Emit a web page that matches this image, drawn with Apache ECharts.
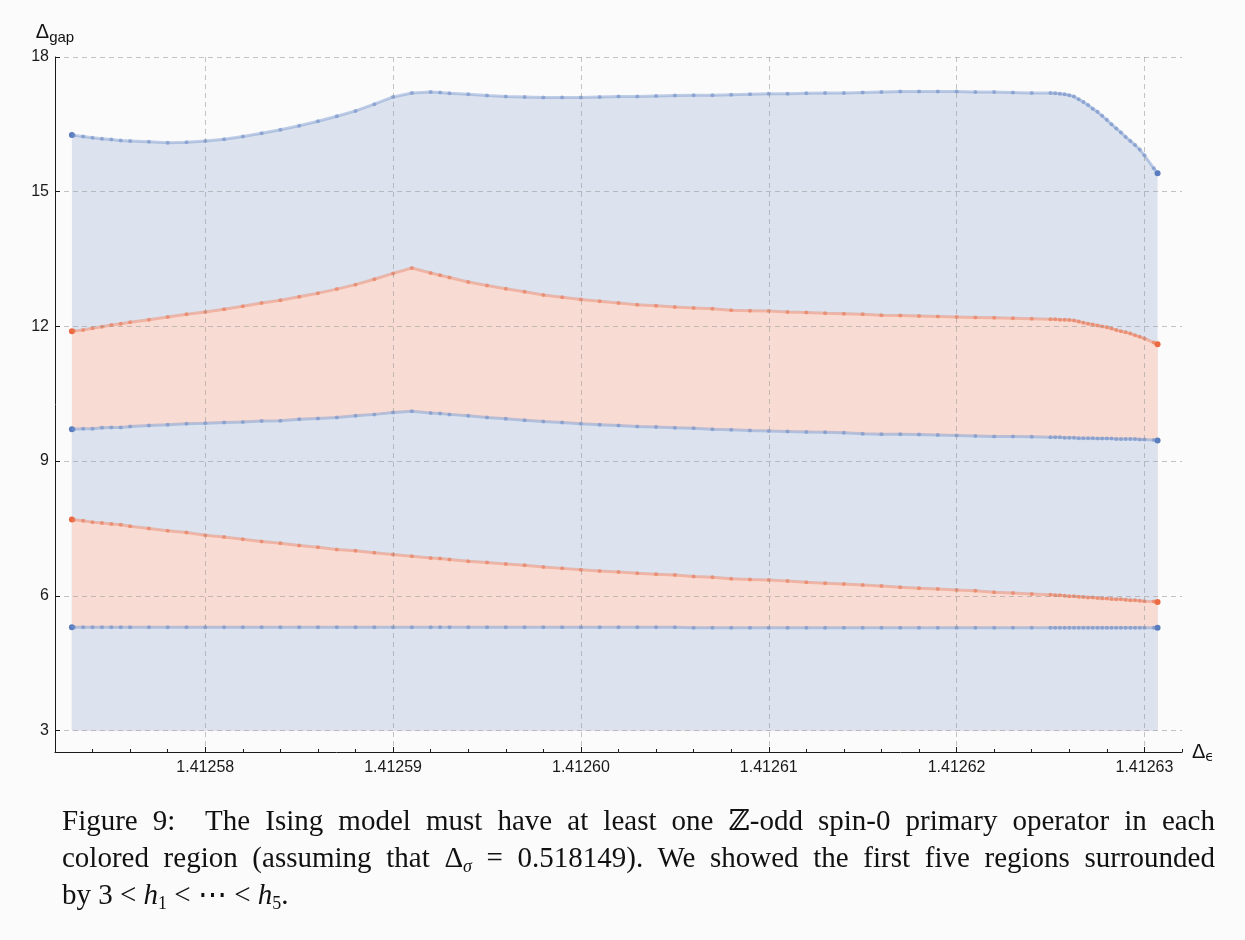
<!DOCTYPE html>
<html><head><meta charset="utf-8">
<script src="https://cdn.jsdelivr.net/npm/echarts@6/dist/echarts.min.js"></script>
<style>
html,body{margin:0;padding:0;background:#fbfbfb;width:1245px;height:940px;overflow:hidden;}
#chart{position:absolute;left:0;top:0;width:1245px;height:940px;}
.cap{position:absolute;left:62px;width:1153px;font-family:'Liberation Serif','DejaVu Serif',serif;font-size:29px;line-height:37px;color:#111;}
.j{text-align:justify;text-align-last:justify;}
sub{font-size:62%;vertical-align:-0.3em;line-height:0;}
</style></head>
<body>
<div id="chart"></div>
<div class="cap j" style="top:802px;">Figure 9:&nbsp; The Ising model must have at least one ℤ-odd spin-0 primary operator in each</div>
<div class="cap j" style="top:839px;">colored region (assuming that Δ<sub><i>σ</i></sub> = 0.518149). We showed the first five regions surrounded</div>
<div class="cap" style="top:876px;">by 3 &lt; <i>h</i><sub>1</sub> &lt; ⋯ &lt; <i>h</i><sub>5</sub>.</div>
<script>
// x samples (Δε)
const eps = [
  1.4125729, 1.412573, 1.4125735, 1.412574, 1.4125745, 1.412575, 1.4125755, 1.412576,
  1.412577, 1.412578, 1.412579, 1.41258, 1.412581, 1.412582, 1.412583, 1.412584, 1.412585,
  1.412586, 1.412587, 1.412588, 1.412589, 1.41259, 1.412591, 1.412592, 1.4125925,
  1.412593, 1.412594, 1.412595, 1.412596, 1.412597, 1.412598, 1.412599, 1.4126,
  1.412601, 1.412602, 1.412603, 1.412604, 1.412605, 1.412606, 1.412607, 1.412608, 1.412609, 1.41261,
  1.412611, 1.412612, 1.412613, 1.412614, 1.412615, 1.412616, 1.412617, 1.412618, 1.412619, 1.41262,
  1.412621, 1.412622, 1.412623, 1.412624, 1.412625,
  1.41262525, 1.4126255, 1.41262575, 1.412626, 1.41262625, 1.4126265, 1.41262675, 1.412627,
  1.41262725, 1.4126275, 1.41262775, 1.412628, 1.41262825, 1.4126285, 1.41262875, 1.412629,
  1.41262925, 1.4126295, 1.41262975, 1.41263, 1.4126305, 1.4126307
];
// boundaries h5 (top) ... h1 (bottom)
const h5 = [
  16.26, 16.25, 16.23, 16.20, 16.18, 16.16, 16.14, 16.13,
  16.11, 16.09, 16.10, 16.13, 16.17, 16.23, 16.30, 16.38, 16.47, 16.57, 16.68, 16.80, 16.95, 17.11, 17.20, 17.22, 17.21,
  17.19, 17.17, 17.14, 17.12, 17.11, 17.10, 17.10, 17.10,
  17.11, 17.12, 17.12, 17.13, 17.14, 17.15, 17.15, 17.16, 17.17, 17.18,
  17.18, 17.19, 17.20, 17.20, 17.21, 17.22, 17.23, 17.23, 17.23, 17.23,
  17.22, 17.22, 17.21, 17.20, 17.20,
  17.19, 17.18, 17.17, 17.15, 17.12, 17.06, 17.00, 16.93, 16.85, 16.78, 16.69,
  16.60, 16.50, 16.41, 16.32, 16.22, 16.13, 16.04, 15.94, 15.81, 15.52, 15.41
];
const h4 = [
  11.89, 11.90, 11.92, 11.96, 11.99, 12.03, 12.06, 12.09,
  12.15, 12.21, 12.27, 12.32, 12.38, 12.45, 12.52, 12.58, 12.66, 12.74, 12.83, 12.93, 13.05, 13.18, 13.30, 13.19, 13.14,
  13.09, 12.99, 12.91, 12.84, 12.77, 12.70, 12.65, 12.60,
  12.56, 12.52, 12.48, 12.46, 12.43, 12.41, 12.39, 12.36, 12.35, 12.34,
  12.32, 12.31, 12.29, 12.28, 12.27, 12.25, 12.24, 12.23, 12.22, 12.21,
  12.20, 12.19, 12.18, 12.17, 12.16,
  12.16, 12.15, 12.15, 12.14, 12.13, 12.11, 12.08, 12.06, 12.04, 12.02, 12.00,
  11.98, 11.95, 11.92, 11.89, 11.87, 11.84, 11.80, 11.77, 11.73, 11.64, 11.60
];
const h3 = [
  9.71, 9.71, 9.72, 9.72, 9.74, 9.75, 9.75, 9.77,
  9.79, 9.81, 9.83, 9.84, 9.86, 9.87, 9.89, 9.90, 9.93, 9.95, 9.97, 10.01, 10.04, 10.08, 10.11, 10.07, 10.06,
  10.04, 10.01, 9.97, 9.94, 9.91, 9.88, 9.86, 9.83,
  9.81, 9.79, 9.77, 9.76, 9.74, 9.73, 9.71, 9.70, 9.68, 9.67,
  9.66, 9.65, 9.64, 9.63, 9.61, 9.60, 9.60, 9.59, 9.58, 9.57,
  9.56, 9.55, 9.55, 9.54, 9.53,
  9.53, 9.53, 9.52, 9.52, 9.52, 9.51, 9.51, 9.51, 9.51, 9.50, 9.50,
  9.50, 9.50, 9.49, 9.49, 9.49, 9.49, 9.49, 9.48, 9.48, 9.47, 9.46
];
const h2 = [
  7.70, 7.69, 7.67, 7.64, 7.62, 7.60, 7.58, 7.55,
  7.50, 7.45, 7.41, 7.35, 7.31, 7.26, 7.21, 7.17, 7.12, 7.08, 7.03, 7.00, 6.96, 6.92, 6.88, 6.84, 6.83,
  6.81, 6.77, 6.74, 6.71, 6.68, 6.64, 6.61, 6.58,
  6.55, 6.53, 6.50, 6.48, 6.46, 6.43, 6.41, 6.38, 6.36, 6.35,
  6.33, 6.30, 6.28, 6.26, 6.24, 6.22, 6.19, 6.17, 6.15, 6.13,
  6.11, 6.08, 6.06, 6.04, 6.02,
  6.01, 6.01, 6.00, 5.99, 5.99, 5.98, 5.97, 5.96, 5.96, 5.95, 5.94,
  5.94, 5.93, 5.92, 5.92, 5.91, 5.90, 5.90, 5.89, 5.88, 5.87, 5.86
];
const h1 = [
  5.30, 5.30, 5.30, 5.30, 5.30, 5.30, 5.30, 5.30,
  5.30, 5.30, 5.30, 5.30, 5.30, 5.30, 5.30, 5.30, 5.30, 5.30, 5.30, 5.30, 5.30, 5.30, 5.30, 5.30, 5.30,
  5.30, 5.30, 5.30, 5.30, 5.30, 5.30, 5.30, 5.30,
  5.30, 5.30, 5.30, 5.30, 5.30, 5.29, 5.29, 5.29, 5.29, 5.29,
  5.29, 5.29, 5.29, 5.29, 5.29, 5.29, 5.29, 5.29, 5.29, 5.29,
  5.29, 5.29, 5.29, 5.29, 5.29,
  5.29, 5.29, 5.29, 5.29, 5.29, 5.29, 5.29, 5.29, 5.29, 5.29, 5.29,
  5.29, 5.29, 5.29, 5.29, 5.29, 5.29, 5.29, 5.29, 5.29, 5.29, 5.29
];
const regionFloor = 3;
const xMajorTicks = [1.41258, 1.41259, 1.41260, 1.41261, 1.41262, 1.41263];
const yTicks = [3, 6, 9, 12, 15, 18];
const xRange = [1.412572, 1.412632];
const yRange = [2.52, 18];

const xMinorTicks = [];
for (let k = 1412574; k <= 1412632; k += 2) xMinorTicks.push(k / 1e6);

const BLUE = {fill:'#dce3ee', line:'rgba(118,148,204,0.45)', dot:'rgba(112,142,200,0.6)', end:'#5a7dbf'};
const ORANGE = {fill:'#f8dcd4', line:'rgba(238,128,98,0.45)', dot:'rgba(232,118,84,0.6)', end:'#ec6a42'};

function band(name, ys, c) {
  const n = eps.length;
  return {
    type:'line', name, xAxisIndex:1, yAxisIndex:0,
    data: eps.map((x, i) => {
      const d = {value:[x, ys[i]]};
      if (i === 0 || i === n - 1) { d.symbolSize = 6; d.itemStyle = {color:c.end}; }
      return d;
    }),
    symbol:'circle', symbolSize:4, showAllSymbol:true,
    itemStyle:{color:c.dot},
    lineStyle:{color:c.line, width:3},
    areaStyle:{color:c.fill, opacity:1, origin:regionFloor},
    silent:true, animation:false
  };
}

const chart = echarts.init(document.getElementById('chart'), null, {renderer:'canvas'});
const axisColor = '#1a1a1a';
const gridLine = {show:true, lineStyle:{color:'rgba(150,150,150,0.55)', type:[5,4], width:1}};
chart.setOption({
  backgroundColor:'#fbfbfb',
  animation:false,
  grid:{left:55, right:63, top:57, bottom:188, containLabel:false},
  xAxis:[
    {type:'value', position:'bottom', min:xRange[0], max:xRange[1], z:5,
     axisLine:{show:true, lineStyle:{color:axisColor, width:1}},
     axisTick:{show:true, inside:true, length:3, customValues:xMinorTicks, lineStyle:{color:axisColor}},
     axisLabel:{show:false}, splitLine:{show:false}},
    {type:'value', position:'bottom', min:xRange[0], max:xRange[1], z:5,
     name:'{d|Δ}{s|ϵ}', nameLocation:'end', nameGap:10,
     nameTextStyle:{color:'#111', rich:{d:{fontSize:20, fontFamily:'Liberation Sans', color:'#111'}, s:{fontSize:14, fontFamily:'DejaVu Sans', color:'#111', padding:[10,0,0,0]}}},
     axisLine:{show:false},
     axisTick:{show:true, inside:true, length:5, customValues:xMajorTicks, lineStyle:{color:axisColor}},
     axisLabel:{show:true, customValues:xMajorTicks, margin:8, fontSize:16, fontFamily:'Liberation Sans', color:'#1a1a1a', formatter:v => v.toFixed(5)},
     splitLine:gridLine}
  ],
  yAxis:{type:'value', min:yRange[0], max:yRange[1], z:5,
    name:'{d|Δ}{s|gap}', nameLocation:'end', nameGap:12,
    nameTextStyle:{color:'#111', rich:{d:{fontSize:20, fontFamily:'Liberation Sans', color:'#111'}, s:{fontSize:15, fontFamily:'Liberation Sans', color:'#111', padding:[10,0,0,0]}}},
    axisLine:{show:true, lineStyle:{color:axisColor, width:1}},
    axisTick:{show:true, inside:true, length:5, customValues:yTicks, lineStyle:{color:axisColor}},
    axisLabel:{show:true, customValues:yTicks, margin:6, fontSize:16, fontFamily:'Liberation Sans', color:'#1a1a1a'},
    splitLine:gridLine},
  series:[
    band('h5', h5, BLUE),
    band('h4', h4, ORANGE),
    band('h3', h3, BLUE),
    band('h2', h2, ORANGE),
    band('h1', h1, BLUE)
  ]
});
</script>
</body></html>
